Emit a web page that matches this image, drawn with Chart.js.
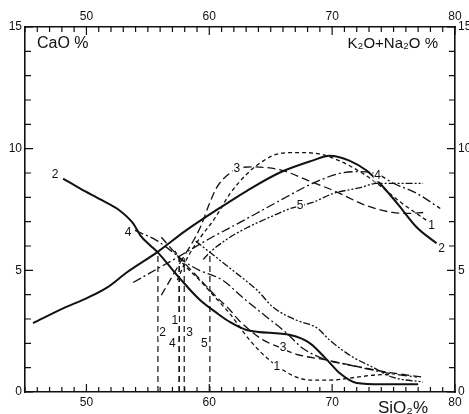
<!DOCTYPE html>
<html>
<head>
<meta charset="utf-8">
<script src="https://cdn.jsdelivr.net/npm/chart.js@4"></script>
<style>
  body { margin: 0; background: #fff; }
</style>
</head>
<body>
<canvas id="grafico" width="469" height="414"></canvas>
<script>
// SiO2 % on x, CaO % and K2O+Na2O % on y
const xTicks = [50, 60, 70, 80];
const yTicks = [0, 5, 10, 15];

// K2O + Na2O curves
const alcX1 = [57.4, 58.2, 59.2, 60.4, 61.7, 63.1, 64.4, 65.7, 67.1, 68.8, 70.6, 72.5, 74.1, 75.7, 77.7];
const alcY1 = [4.6, 5.5, 6.3, 7.1, 8.16, 8.98, 9.5, 9.8, 9.84, 9.8, 9.5, 8.98, 8.4, 7.75, 7.05];
const alcX2 = [45.65, 48.1, 50.0, 51.7, 53.3, 55.8, 58.0, 60.9, 63.1, 65.75, 68.4, 69.8, 71.4, 72.8, 73.9, 75.3, 76.9, 78.5];
const alcY2 = [2.83, 3.44, 3.85, 4.3, 4.92, 5.76, 6.6, 7.58, 8.28, 9.02, 9.51, 9.71, 9.51, 9.1, 8.57, 7.75, 6.76, 6.11];
const alcX3 = [56.1, 57.6, 59.3, 59.9, 60.6, 61.7, 62.4, 63.5, 64.7, 66.0, 68.0, 70.1, 72.8, 74.9, 76.1, 77.5];
const alcY3 = [3.98, 5.29, 6.8, 7.6, 8.4, 9.0, 9.2, 9.25, 9.22, 9.1, 8.7, 8.28, 7.66, 7.38, 7.34, 7.38];
const alcX4 = [53.8, 57.4, 60.0, 62.5, 65.5, 68.4, 70.6, 72.3, 73.7, 74.9, 76.9, 78.8];
const alcY4 = [4.5, 5.53, 6.3, 6.97, 7.8, 8.57, 8.98, 9.06, 8.95, 8.6, 8.16, 7.54];
const alcX5 = [59.5, 60.05, 61.5, 63.1, 65.0, 66.6, 68.4, 70.1, 72.3, 73.6, 75.5, 77.4];
const alcY5 = [5.45, 5.74, 6.3, 6.76, 7.2, 7.54, 7.79, 8.16, 8.4, 8.57, 8.57, 8.57];

// CaO curves
const caoX1 = [57.2, 57.6, 59.2, 61.0, 61.7, 63.3, 64.9, 67.1, 68.4, 69.8, 72.0, 73.5, 74.9];
const caoY1 = [5.8, 5.45, 4.6, 3.6, 3.2, 2.13, 1.31, 0.61, 0.49, 0.49, 0.61, 0.7, 0.72];
const caoX2 = [48.1, 49.5, 51.3, 52.7, 53.8, 54.4, 55.2, 55.8, 57.6, 59.2, 60.6, 61.7, 63.1, 66.6, 68.2, 69.6, 70.6, 72.0, 74.0, 77.0];
const caoY2 = [8.77, 8.36, 7.87, 7.46, 6.93, 6.43, 6.02, 5.74, 4.67, 3.8, 3.25, 2.87, 2.54, 2.34, 2.0, 1.31, 0.78, 0.37, 0.32, 0.32];
const caoX3 = [56.1, 57.6, 59.2, 60.5, 61.7, 62.5, 63.3, 64.4, 65.7, 67.1, 69.6, 71.4, 74.7, 77.4];
const caoY3 = [6.36, 5.5, 4.65, 3.95, 3.36, 2.9, 2.54, 2.13, 1.84, 1.55, 1.31, 1.11, 0.8, 0.61];
const caoX4 = [53.95, 55.7, 57.4, 58.0, 59.2, 61.1, 62.7, 64.7, 66.3, 67.6, 69.6, 71.4, 74.5, 76.9];
const caoY4 = [6.64, 6.23, 5.6, 5.35, 5.0, 4.59, 3.89, 3.07, 2.42, 1.8, 1.31, 1.11, 0.78, 0.61];
const caoX5 = [58.9, 60.05, 61.7, 63.9, 65.2, 67.1, 68.8, 69.8, 71.7, 73.3, 74.9, 77.4];
const caoY5 = [6.2, 5.74, 5.08, 4.18, 3.48, 2.95, 2.62, 2.13, 1.43, 1.02, 0.61, 0.41];

// where the two curves of each group cross (curves 1..5)
const cruzaX = [57.55, 55.82, 57.96, 57.55, 60.05];
const cruzaY = [5.5, 5.74, 5.5, 5.5, 5.74];

// curve numbers written on the plot
const rotuloTxt = ['2', '4', '3', '4', '5', '1', '2', '3', '1', '1', '2', '4', '3', '5'];
const rotuloX = [47.45, 53.4, 62.25, 73.7, 67.4, 78.1, 78.9, 66.0, 65.5, 57.2, 56.2, 57.0, 58.4, 59.6];
const rotuloY = [8.93, 6.56, 9.18, 8.9, 7.66, 6.84, 5.9, 1.84, 1.02, 2.95, 2.42, 2.0, 2.42, 2.0];

const tracos = { 1: [4, 3], 2: [], 3: [8, 4], 4: [9, 3, 2, 3], 5: [7, 2, 2, 2, 2, 2] };
const cor = '#111';

const curva = (xs, ys, n) => ({
    data: xs.map((v, i) => ({ x: v, y: ys[i] })),
    borderColor: cor,
    borderWidth: n === 2 ? 2 : 1.3,
    borderDash: tracos[n],
    pointRadius: 0,
    fill: false,
    cubicInterpolationMode: 'monotone',
    xAxisID: 'x',
    yAxisID: 'y'
});

const verticais = cruzaX.map((v, i) => ({
    data: [{ x: v, y: 0 }, { x: v, y: cruzaY[i] }],
    borderColor: cor,
    borderWidth: 1.2,
    borderDash: [6, 4],
    pointRadius: 0,
    tension: 0,
    xAxisID: 'x',
    yAxisID: 'y'
}));

const datasets = [
    curva(alcX1, alcY1, 1), curva(alcX2, alcY2, 2), curva(alcX3, alcY3, 3),
    curva(alcX4, alcY4, 4), curva(alcX5, alcY5, 5),
    curva(caoX1, caoY1, 1), curva(caoX2, caoY2, 2), curva(caoX3, caoY3, 3),
    curva(caoX4, caoY4, 4), curva(caoX5, caoY5, 5),
    ...verticais
];

const fonte = "'Liberation Sans', 'DejaVu Sans', sans-serif";

const eixo = (pos, ticks, min, max, tam) => ({
    type: 'linear',
    position: pos,
    min: min,
    max: max,
    afterBuildTicks: s => { s.ticks = ticks.map(v => ({ value: v })); },
    afterFit: s => {
        if (pos === 'left' || pos === 'right') s.width = tam;
        else s.height = tam;
    },
    grid: { drawOnChartArea: false, drawTicks: false },
    border: { display: true, color: cor, width: 1.6 },
    ticks: { color: cor, padding: 3, font: { family: fonte, size: 12 } }
});

const enfeites = {
    id: 'enfeites',
    afterDraw(chart) {
        const { ctx, chartArea: a, scales: { x, y } } = chart;
        ctx.save();
        ctx.strokeStyle = cor;
        ctx.lineWidth = 1.2;
        ctx.beginPath();
        for (let v = 45; v <= 80; v++) {
            const px = x.getPixelForValue(v);
            const len = v % 10 === 0 ? 8 : 5;
            ctx.moveTo(px, a.bottom); ctx.lineTo(px, a.bottom - len);
            ctx.moveTo(px, a.top); ctx.lineTo(px, a.top + len);
        }
        for (let v = 0; v <= 15; v++) {
            const py = y.getPixelForValue(v);
            const len = v % 5 === 0 ? 8 : 6;
            ctx.moveTo(a.left, py); ctx.lineTo(a.left + len, py);
            ctx.moveTo(a.right, py); ctx.lineTo(a.right - len, py);
        }
        ctx.stroke();

        // curve numbers
        ctx.font = '12px ' + fonte;
        ctx.textAlign = 'center';
        ctx.textBaseline = 'middle';
        rotuloTxt.forEach((t, i) => {
            const px = x.getPixelForValue(rotuloX[i]);
            const py = y.getPixelForValue(rotuloY[i]);
            ctx.fillStyle = '#fff';
            ctx.fillRect(px - 4, py - 6, 8, 12);
            ctx.fillStyle = cor;
            ctx.fillText(t, px, py);
        });

        // axis names
        ctx.textBaseline = 'alphabetic';
        ctx.font = '16px ' + fonte;
        ctx.textAlign = 'left';
        ctx.fillText('CaO %', a.left + 12, a.top + 21);
        ctx.font = '15px ' + fonte;
        ctx.textAlign = 'right';
        ctx.fillText('K₂O+Na₂O %', a.right - 17, a.top + 21);
        ctx.font = '17px ' + fonte;
        ctx.textAlign = 'left';
        ctx.fillText('SiO₂%', a.right - 77, a.bottom + 21);
        ctx.restore();
    }
};

new Chart(document.getElementById('grafico'), {
    type: 'line',
    data: { datasets },
    options: {
        responsive: false,
        animation: false,
        devicePixelRatio: 1,
        layout: { padding: 0 },
        plugins: { legend: { display: false }, tooltip: { enabled: false } },
        scales: {
            x: eixo('bottom', xTicks, 45, 80, 22),
            x2: eixo('top', xTicks, 45, 80, 27),
            y: eixo('left', yTicks, 0, 15, 25),
            y2: eixo('right', yTicks, 0, 15, 14)
        }
    },
    plugins: [enfeites]
});
</script>
</body>
</html>
